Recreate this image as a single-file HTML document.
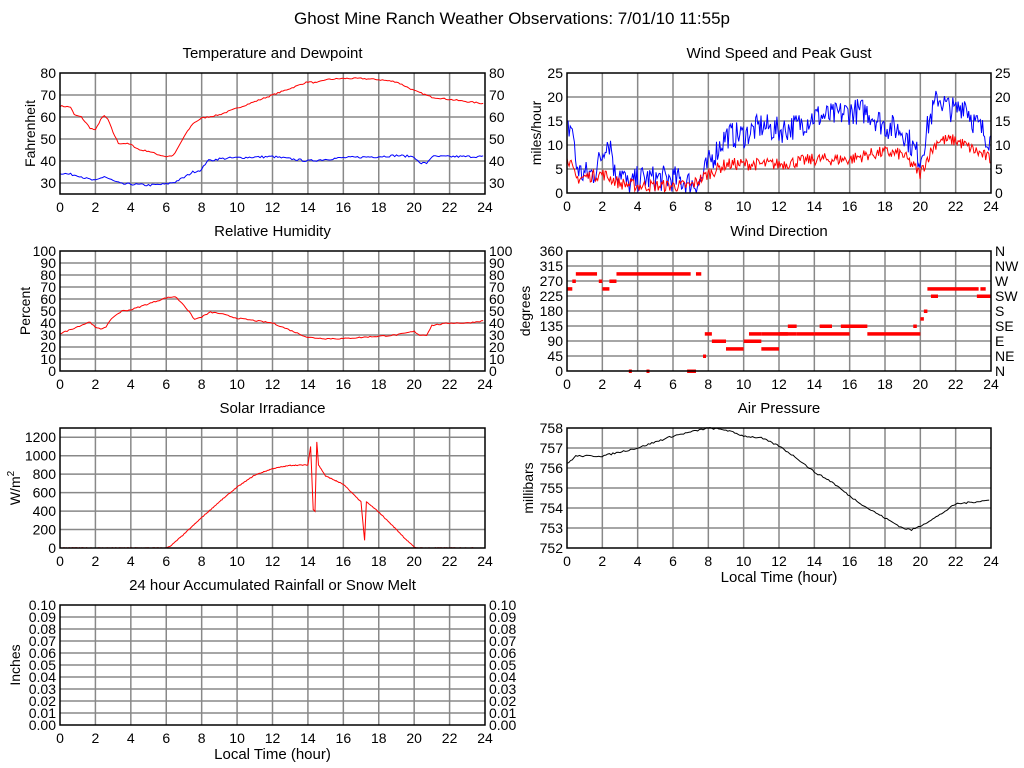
<!DOCTYPE html>
<html><head><meta charset="utf-8"><style>
body{margin:0;background:#fff;}
svg{display:block;font-family:"Liberation Sans",sans-serif;}
</style></head><body>
<svg id="s" width="1024" height="768" xmlns="http://www.w3.org/2000/svg"></svg>
<script>
var S=document.getElementById('s'),out='';
var seed=7;function rnd(){seed=(seed*16807)%2147483647;return seed/2147483647;}
function T(x,y,t,sz,anc,extra){out+='<text x="'+x+'" y="'+y+'" font-size="'+(sz||14)+'" text-anchor="'+(anc||'middle')+'" '+(extra||'')+'>'+t+'</text>';}
function interp(k,h){for(var i=0;i<k.length-1;i++){if(h>=k[i][0]&&h<=k[i+1][0]){var f=(h-k[i][0])/(k[i+1][0]-k[i][0]||1);return k[i][1]+f*(k[i+1][1]-k[i][1]);}}return k[k.length-1][1];}
function panel(p){
 var w=p.x1-p.x0;
 for(var h=2;h<24;h+=2){var x=p.x0+h*w/24;out+='<line x1="'+x+'" y1="'+p.y0+'" x2="'+x+'" y2="'+p.y1+'" stroke="#888" stroke-width="1.5"/>';}
 p.ticks.forEach(function(v,i){var y=p.Y(v);if(y>p.y0+1&&y<p.y1-1)out+='<line x1="'+p.x0+'" y1="'+y+'" x2="'+p.x1+'" y2="'+y+'" stroke="#888" stroke-width="1.5"/>';
  T(p.x0-4,y+5,p.lab?p.lab(v):v,14,'end');
  if(p.right)T(p.x1+4,y+5,p.rlab?p.rlab[i]:(p.lab?p.lab(v):v),14,'start');});
 for(var h=0;h<=24;h+=2)T(p.x0+h*w/24,p.y1+18,h,14);
 T((p.x0+p.x1)/2,p.y0-15,p.title,15);
 T(0,0,p.ylab,14,'middle','transform="translate('+(p.x0-p.yo)+','+((p.y0+p.y1)/2)+') rotate(-90)"');
 if(p.xlab)T((p.x0+p.x1)/2,p.y1+34,'Local Time (hour)',15);
}
function mk(x0,x1,y0,y1,mn,mx){var p={x0:x0,x1:x1,y0:y0,y1:y1};p.Y=function(v){return y1-(v-mn)/(mx-mn)*(y1-y0);};p.X=function(h){return x0+h/24*(x1-x0);};return p;}
function line(p,k,col,noise,step,clampMin){var pts=[];for(var h=0;h<=24;h+=step){var v=interp(k,h)+(rnd()-0.5)*2*noise;if(clampMin!=null&&v<clampMin)v=clampMin;pts.push(p.X(h).toFixed(1)+','+p.Y(v).toFixed(1));}
 out+='<polyline points="'+pts.join(' ')+'" fill="none" stroke="'+col+'" stroke-width="1"/>';}
function box(p){out+='<rect x="'+p.x0+'" y="'+p.y0+'" width="'+(p.x1-p.x0)+'" height="'+(p.y1-p.y0)+'" fill="none" stroke="#000" stroke-width="1.5"/>';}

T(512,24,'Ghost Mine Ranch Weather Observations: 7/01/10 11:55p',17);

var p1=mk(60,485,73,194,25,80);p1.ticks=[30,40,50,60,70,80];p1.right=1;p1.title='Temperature and Dewpoint';p1.ylab='Fahrenheit';p1.yo=25;panel(p1);
line(p1,[[0,65],[0.6,64.5],[0.8,61],[1.2,60],[1.7,55],[2,54],[2.3,59],[2.5,60.5],[2.7,59],[3,53],[3.3,48],[3.7,48],[4,47.5],[4.5,45],[5,44.5],[5.5,43],[6,42],[6.4,42.5],[6.6,45],[7,51],[7.5,57],[8,59.5],[9,61],[10,64],[11,67],[12,70],[13,73],[14,76],[14.5,75.5],[15,77],[16,77.5],[17,77.5],[18,77],[19,76],[20,72],[21,69],[22,68],[23,67],[24,66]],'#f00',0.3,0.1);
line(p1,[[0,34.5],[1,33.5],[1.5,32],[2,31],[2.5,33],[3,31],[3.5,29.5],[4,29.5],[5,29],[6,29.5],[6.5,30.5],[7,32.5],[7.5,35],[8,36],[8.3,40],[9,41],[10,41.5],[12,42],[14,40],[16,41.5],[18,42],[19,42.5],[20,42],[20.3,39],[20.7,39],[21,42],[24,42]],'#00f',0.5,0.1);
box(p1);

var p2=mk(567,991,73,193,0,25);p2.ticks=[0,5,10,15,20,25];p2.right=1;p2.title='Wind Speed and Peak Gust';p2.ylab='miles/hour';p2.yo=26;panel(p2);
line(p2,[[0,13],[0.3,14],[0.5,6],[0.8,4],[1.5,4],[2,8],[2.2,11],[2.5,10],[2.7,4],[3,5],[3.5,1],[4,3],[5,3],[6,3],[7,2],[7.5,2],[8,6],[8.5,9],[9,12],[10,12],[11,14],[12,13],[13,14],[14,16],[15,16],[16,17],[17,17],[18,14],[19,13],[20,7],[20.5,15],[21,20],[21.5,18],[22,17],[22.5,19],[23,15],[24,11]],'#00f',2.8,0.06,0);
line(p2,[[0,8],[0.5,3],[2,4],[2.5,3],[3,2],[4,1.5],[7,1.5],[8,4],[9,6],[12,6],[14,7],[16,7],[17,8],[18,8.5],[19,8],[20,4],[20.5,8],[21,11],[22,11],[23,9],[24,7]],'#f00',1.3,0.06,0);
box(p2);

var p3=mk(60,485,251,371,0,100);p3.ticks=[0,10,20,30,40,50,60,70,80,90,100];p3.right=1;p3.title='Relative Humidity';p3.ylab='Percent';p3.yo=30;panel(p3);
line(p3,[[0,31],[1,37],[1.7,41],[2,36],[2.3,35],[2.6,37],[3,45],[3.5,50],[4,51],[5,56],[6,61],[6.5,62],[7,55],[7.6,43],[8,45],[8.5,49],[9,48],[10,44],[11,42],[12,40],[13,34],[14,28],[15,27],[16,27],[17,28],[18,29],[19,30],[20,33],[20.3,30],[20.7,30],[21,38],[22,40],[23,40],[24,42]],'#f00',0.5,0.1);
box(p3);

var p4=mk(567,991,251,371,0,360);p4.ticks=[0,45,90,135,180,225,270,315,360];p4.right=1;p4.rlab=['N','NE','E','SE','S','SW','W','NW','N'];p4.title='Wind Direction';p4.ylab='degrees';p4.yo=37;panel(p4);
[[0,0.3,247],[0.3,0.5,270],[0.5,1.7,292],[1.8,2,270],[2,2.4,247],[2.4,2.8,270],[2.8,7,292],[7.3,7.6,292],[7.8,8.2,112],[8.2,9,90],[9,10,67],[10,11,90],[10.3,11,112],[11,12.5,112],[11,12,67],[12,13,112],[12.5,13,135],[13,14,112],[14,15,112],[14.3,15,135],[15,16,112],[15.5,17,135],[17,20,112],[19.6,19.8,135],[20,20.2,157],[20.2,20.4,180],[20.4,23.3,247],[20.6,21,225],[23.2,24,225],[23.4,23.7,247],[3.5,3.6,0],[4.5,4.6,0],[6.8,7.3,0],[7.7,7.8,45]].forEach(function(s){
 out+='<rect x="'+p4.X(s[0])+'" y="'+(p4.Y(s[2])-1.5)+'" width="'+Math.max(3,p4.X(s[1])-p4.X(s[0]))+'" height="3.5" fill="#f00"/>';});
box(p4);

var p5=mk(60,485,428,548,0,1300);p5.ticks=[0,200,400,600,800,1000,1200];p5.title='Solar Irradiance';p5.ylab='W/m<tspan font-size="10" dy="-6">2</tspan>';p5.yo=40;panel(p5);
line(p5,[[0,0],[6,0],[6.3,30],[7,150],[8,330],[9,500],[10,660],[11,790],[12,860],[13,895],[14,900],[14.15,1100],[14.3,420],[14.4,400],[14.5,1150],[14.6,900],[15,780],[16,690],[17,500],[17.2,80],[17.3,500],[18,390],[19,200],[19.5,100],[20,10],[20.2,0],[24,0]],'#f00',4,0.05,0);
box(p5);

var p6=mk(567,991,428,548,752,758);p6.ticks=[752,753,754,755,756,757,758];p6.title='Air Pressure';p6.ylab='millibars';p6.yo=34;p6.xlab=1;panel(p6);
line(p6,[[0,756.2],[0.5,756.6],[2,756.6],[3,756.8],[4,757],[5,757.3],[6,757.6],[7,757.8],[8,758],[9,757.9],[10,757.6],[11,757.5],[12,757.1],[13,756.5],[14,755.8],[15,755.3],[16,754.6],[17,754],[18,753.5],[19,753.0],[19.5,752.9],[20,753.1],[21,753.6],[22,754.2],[23,754.3],[24,754.4]],'#000',0.04,0.1);
box(p6);

var p7=mk(60,485,605,725,0,0.1);p7.ticks=[0,0.01,0.02,0.03,0.04,0.05,0.06,0.07,0.08,0.09,0.1];p7.lab=function(v){return v.toFixed(2);};p7.right=1;p7.title='24 hour Accumulated Rainfall or Snow Melt';p7.ylab='Inches';p7.yo=40;p7.xlab=1;panel(p7);
box(p7);

S.innerHTML=out;
</script>
</body></html>
